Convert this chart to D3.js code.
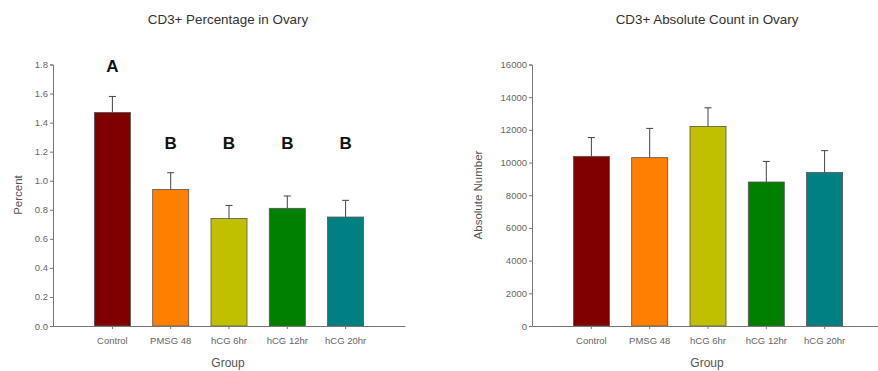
<!DOCTYPE html>
<html>
<head>
<meta charset="utf-8">
<script src="https://cdn.jsdelivr.net/npm/d3@7"></script>
<style>
  html, body { margin: 0; padding: 0; background: #fff; }
  svg { display: block; font-family: "Liberation Sans", Arial, sans-serif; }
</style>
</head>
<body>
<svg id="chart" width="878" height="371"></svg>
<script>
// Groups shared by both panels
const groups = ["Control", "PMSG 48", "hCG 6hr", "hCG 12hr", "hCG 20hr"];
const groupColors = ["#800000", "#ff8000", "#c0c000", "#008000", "#008080"];

// CD3+ percentage (mean and SEM)
const pctMeans = [1.47, 0.94, 0.74, 0.81, 0.75];
const pctErrors = [0.11, 0.115, 0.09, 0.085, 0.115];
const pctLetters = ["A", "B", "B", "B", "B"];
const pctLetterY = [1.745, 1.215, 1.215, 1.215, 1.215];
const pctTicks = [0, 0.2, 0.4, 0.6, 0.8, 1.0, 1.2, 1.4, 1.6, 1.8];

// CD3+ absolute count (mean and SEM)
const absMeans = [10380, 10300, 12210, 8810, 9400];
const absErrors = [1150, 1790, 1140, 1260, 1330];
const absTicks = [0, 2000, 4000, 6000, 8000, 10000, 12000, 14000, 16000];

const svg = d3.select("#chart");

function panel(opts) {
  const g = svg.append("g");
  const x = d3.scaleBand()
    .domain(groups)
    .range([opts.x0, opts.x0 + 352])
    .paddingInner(0.382)
    .paddingOuter(0.71);
  const y = d3.scaleLinear()
    .domain([0, opts.yMax])
    .range([326, 64.5]);

  // Title
  g.append("text")
    .attr("x", opts.titleX)
    .attr("y", 24)
    .attr("text-anchor", "middle")
    .attr("font-size", 13.4)
    .attr("fill", "#333")
    .text(opts.title);

  // Bars
  g.selectAll("rect.bar")
    .data(groups)
    .join("rect")
    .attr("class", "bar")
    .attr("x", d => x(d))
    .attr("width", x.bandwidth())
    .attr("y", (d, i) => y(opts.means[i]))
    .attr("height", (d, i) => y(0) - y(opts.means[i]))
    .attr("fill", (d, i) => groupColors[i])
    .attr("stroke", "#555")
    .attr("stroke-width", 0.8);

  // Upper error bars with caps
  const eb = g.selectAll("g.err")
    .data(groups)
    .join("g")
    .attr("class", "err")
    .attr("stroke", "#444")
    .attr("stroke-width", 1);
  eb.append("line")
    .attr("x1", d => x(d) + x.bandwidth() / 2)
    .attr("x2", d => x(d) + x.bandwidth() / 2)
    .attr("y1", (d, i) => y(opts.means[i]))
    .attr("y2", (d, i) => y(opts.means[i] + opts.errors[i]));
  eb.append("line")
    .attr("x1", d => x(d) + x.bandwidth() / 2 - 3.5)
    .attr("x2", d => x(d) + x.bandwidth() / 2 + 3.5)
    .attr("y1", (d, i) => y(opts.means[i] + opts.errors[i]))
    .attr("y2", (d, i) => y(opts.means[i] + opts.errors[i]));

  // Significance letters
  if (opts.letters) {
    g.selectAll("text.letter")
      .data(groups)
      .join("text")
      .attr("class", "letter")
      .attr("x", d => x(d) + x.bandwidth() / 2)
      .attr("y", (d, i) => y(opts.letterY[i]))
      .attr("text-anchor", "middle")
      .attr("font-size", 17)
      .attr("font-weight", "bold")
      .attr("fill", "#111")
      .text((d, i) => opts.letters[i]);
  }

  // Y axis
  const yAxis = d3.axisLeft(y)
    .tickValues(opts.ticks)
    .tickSize(3)
    .tickPadding(2)
    .tickFormat(opts.fmt);
  const ya = g.append("g")
    .attr("transform", `translate(${opts.x0},0)`)
    .call(yAxis);
  ya.select(".domain").attr("stroke", "#777");
  ya.selectAll(".tick line").attr("stroke", "#777");
  ya.selectAll(".tick text")
    .attr("fill", "#666")
    .attr("font-size", 9.5)
    .attr("font-family", "Liberation Sans, Arial, sans-serif");

  // X axis
  const xAxis = d3.axisBottom(x).tickSize(3).tickPadding(8).tickSizeOuter(0);
  const xa = g.append("g")
    .attr("transform", "translate(0,326)")
    .call(xAxis);
  xa.select(".domain").attr("stroke", "#777");
  xa.selectAll(".tick line").attr("stroke", "#777");
  xa.selectAll(".tick text")
    .attr("fill", "#666")
    .attr("font-size", 9.5)
    .attr("font-family", "Liberation Sans, Arial, sans-serif");

  // Axis titles
  g.append("text")
    .attr("x", opts.x0 + 175)
    .attr("y", 367)
    .attr("text-anchor", "middle")
    .attr("font-size", 12)
    .attr("fill", "#555")
    .text("Group");
  g.append("text")
    .attr("transform", `translate(${opts.yLabelX},195) rotate(-90)`)
    .attr("text-anchor", "middle")
    .attr("font-size", 11.5)
    .attr("fill", "#555")
    .text(opts.yLabel);
}

panel({
  x0: 53, yMax: 1.8, means: pctMeans, errors: pctErrors,
  ticks: pctTicks, fmt: d3.format(".1f"),
  title: "CD3+ Percentage in Ovary", titleX: 228,
  yLabel: "Percent", yLabelX: 22,
  letters: pctLetters, letterY: pctLetterY
});

panel({
  x0: 532, yMax: 16000, means: absMeans, errors: absErrors,
  ticks: absTicks, fmt: d3.format("d"),
  title: "CD3+ Absolute Count in Ovary", titleX: 707,
  yLabel: "Absolute Number", yLabelX: 482
});
</script>
</body>
</html>
